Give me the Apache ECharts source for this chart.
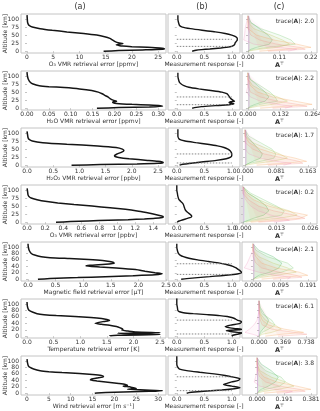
<!DOCTYPE html>
<html>
<head>
<meta charset="UTF-8">
<title>Retrieval errors</title>
<script src="https://cdn.jsdelivr.net/npm/echarts@6/dist/echarts.min.js"></script>
<style>
html, body { margin: 0; padding: 0; background: #fff; }
#main { width: 320px; height: 411px; }
</style>
</head>
<body>
<div id="main"></div>
<script type="text/javascript">
// ---- column (a): retrieval error profiles ----
var aAlt1 = [112, 100, 90, 85, 80, 75, 70, 65, 60, 55, 50, 45, 40, 36, 30, 26, 24, 22, 20, 18, 16, 14, 12, 10, 8, 6, 4, 2, 0];
var aErr1 = [0, 0.05, 0.1, 0.2, 0.4, 1.0, 2.5, 4.8, 7.6, 10.8, 13.3, 14.8, 15.8, 16.2, 16.8, 17.4, 18.3, 17.5, 17.0, 17.5, 18.2, 20, 23, 25.3, 26.2, 25.8, 22, 17.5, 14.6];
var aAlt2 = [112, 100, 90, 80, 75, 70, 67, 64, 60, 55, 50, 45, 40, 35, 30, 25, 22, 20, 18, 15, 12, 10, 8, 6, 4, 2, 0];
var aErr2 = [0, 0.001, 0.003, 0.008, 0.014, 0.028, 0.05, 0.085, 0.12, 0.148, 0.163, 0.172, 0.178, 0.185, 0.19, 0.197, 0.205, 0.198, 0.196, 0.205, 0.24, 0.28, 0.305, 0.31, 0.28, 0.21, 0.16];
var aAlt3 = [105, 95, 85, 80, 75, 70, 65, 60, 55, 50, 45, 40, 35, 30, 27, 24, 20, 15, 12, 10, 8, 6, 4, 2, 0];
var aErr3 = [0, 0.01, 0.02, 0.04, 0.1, 0.3, 0.76, 1.35, 1.7, 1.82, 1.85, 1.8, 1.72, 1.67, 1.68, 1.75, 1.95, 2.3, 2.5, 2.58, 2.6, 2.5, 2.1, 1.4, 0.85];
var aAlt4 = [105, 95, 85, 80, 75, 70, 65, 60, 55, 50, 45, 40, 35, 30, 25, 20, 17, 15, 12, 10, 8, 6, 4, 2, 0];
var aErr4 = [0, 0.005, 0.01, 0.02, 0.045, 0.11, 0.2, 0.34, 0.52, 0.72, 0.92, 1.09, 1.22, 1.32, 1.41, 1.48, 1.51, 1.5, 1.42, 1.3, 1.12, 0.9, 0.68, 0.48, 0.32];
var aAlt5 = [110, 100, 90, 80, 75, 70, 67, 64, 61, 58, 55, 52, 49, 46, 43, 41, 38, 35, 30, 25, 20, 17, 14, 11, 8, 5, 2, 0];
var aErr5 = [0, 0.005, 0.02, 0.06, 0.12, 0.24, 0.4, 0.75, 1.1, 1.35, 1.48, 1.55, 1.56, 1.35, 1.12, 1.05, 1.3, 1.6, 1.95, 2.12, 2.3, 2.43, 2.3, 1.9, 1.4, 0.9, 0.4, 0.18];
var aAlt6 = [106, 95, 85, 80, 75, 70, 67, 64, 61, 58, 55, 52, 49, 46, 43, 40, 37, 34, 30, 26, 22, 19, 16, 13, 11, 9, 7, 5, 3, 1, 0];
var aErr6 = [0, 0.005, 0.02, 0.04, 0.1, 0.19, 0.32, 0.55, 0.9, 1.2, 1.4, 1.5, 1.55, 1.45, 1.35, 1.28, 1.4, 1.55, 1.68, 1.75, 1.8, 1.78, 1.9, 2.05, 2.5, 1.7, 2.0, 2.5, 1.7, 1.55, 1.55];
var aAlt7 = [106, 95, 85, 80, 75, 70, 67, 64, 61, 58, 55, 52, 50, 47, 44, 41, 38, 35, 30, 27, 24, 22, 20, 18, 15, 12, 10, 8, 6, 3, 1, 0];
var aErr7 = [0, 0.1, 0.3, 0.7, 1.5, 3, 5, 8, 12, 15, 17, 17.5, 17.3, 16, 14.8, 14.5, 16, 18, 21, 22.5, 23, 22, 23.5, 24, 25, 23, 27, 31, 28, 20, 16, 15.5];
var aNames = ['O\u2083 VMR retrieval error [ppmv]', 'H\u2082O VMR retrieval error [ppmv]', 'H\u2082O\u2082 VMR retrieval error [ppbv]',
  'O\u2083 VMR retrieval error [ppbv]', 'Magnetic field retrieval error [\u00b5T]', 'Temperature retrieval error [K]', 'Wind retrieval error [m s\u207b\u00b9]'];
var aTicks1 = [0, 5, 10, 15, 20, 25];
var aTicks2 = [0, 0.05, 0.1, 0.15, 0.2, 0.25, 0.3];
var aTicks3 = [0, 0.5, 1, 1.5, 2, 2.5];
var aTicks4 = [0, 0.2, 0.4, 0.6, 0.8, 1.0, 1.2, 1.4];
var aTicks5 = [0, 0.5, 1, 1.5, 2, 2.5];
var aTicks6 = [0, 0.5, 1, 1.5, 2, 2.5];
var aTicks7 = [0, 5, 10, 15, 20, 25, 30];

// ---- column (b): measurement response ----
var bAlt1 = [112, 100, 90, 80, 75, 70, 65, 60, 55, 50, 45, 40, 35, 30, 25, 20, 15, 12, 10, 7, 5, 3, 0];
var bResp1 = [0.02, 0.02, 0.03, 0.05, 0.1, 0.25, 0.46, 0.7, 0.88, 1.0, 1.07, 1.1, 1.1, 1.08, 1.06, 1.05, 1.0, 0.9, 0.8, 0.6, 0.45, 0.35, 0.28];
var bAlt2 = [110, 100, 90, 80, 75, 70, 65, 60, 55, 50, 45, 40, 35, 30, 25, 22, 20, 17, 14, 11, 8, 5, 2, 0];
var bResp2 = [0.02, 0.02, 0.03, 0.05, 0.08, 0.13, 0.22, 0.4, 0.62, 0.82, 0.91, 0.94, 0.96, 0.98, 1.02, 1.05, 0.98, 0.95, 1.04, 0.95, 0.7, 0.45, 0.32, 0.28];
var bAlt3 = [112, 100, 90, 80, 75, 70, 65, 60, 55, 50, 45, 40, 35, 30, 25, 20, 15, 10, 7, 4, 2, 0];
var bResp3 = [0.02, 0.02, 0.02, 0.05, 0.15, 0.35, 0.56, 0.74, 0.86, 0.93, 0.97, 0.99, 1.0, 1.0, 0.98, 0.9, 0.72, 0.45, 0.3, 0.15, 0.08, 0.05];
var bAlt4 = [115, 100, 90, 80, 70, 65, 60, 55, 50, 45, 40, 35, 30, 25, 20, 17, 14, 10, 7, 4, 2, 0];
var bResp4 = [0, 0, 0.01, 0.02, 0.04, 0.07, 0.1, 0.12, 0.13, 0.14, 0.15, 0.17, 0.2, 0.24, 0.27, 0.27, 0.24, 0.16, 0.1, 0.05, 0.02, 0.01];
var bAlt5 = [110, 100, 90, 80, 75, 70, 65, 60, 55, 50, 45, 40, 35, 30, 25, 20, 17, 14, 11, 8, 5, 2, 0];
var bResp5 = [0, 0, 0.01, 0.03, 0.06, 0.12, 0.22, 0.38, 0.58, 0.78, 0.92, 1.02, 1.08, 1.12, 1.16, 1.18, 1.12, 0.98, 0.8, 0.6, 0.38, 0.18, 0.08];
var bAlt6 = [118, 100, 90, 80, 76, 73, 70, 67, 64, 61, 58, 55, 50, 45, 40, 35, 30, 25, 21, 17, 13, 10, 6, 3, 0];
var bResp6 = [0, 0, 0.01, 0.02, 0.05, 0.12, 0.3, 0.55, 0.78, 0.92, 1.0, 1.05, 1.1, 1.18, 1.15, 1.0, 0.88, 1.0, 1.2, 0.9, 1.05, 1.2, 1.1, 1.02, 1.0];
var bAlt7 = [115, 100, 90, 80, 75, 70, 65, 60, 55, 50, 45, 40, 35, 30, 27, 22, 17, 13, 10, 7, 4, 2, 0];
var bResp7 = [0, 0, 0, 0.02, 0.05, 0.18, 0.42, 0.68, 0.88, 1.03, 1.15, 1.12, 1.0, 0.9, 0.85, 1.0, 1.15, 1.0, 0.82, 0.55, 0.32, 0.22, 0.18];
// altitude limits drawn as dotted lines, and their response span
var bDots = [[37, 15], [35, 11], [35, 7], [], [48, 15], [50, 7], [51, 8]];
var dotSpan = [0, 1];
var bTicks = [0, 0.5, 1.0];

// ---- column (c): averaging kernels ----
var cAlt = [110, 90, 70, 50, 35, 22, 12, 6, 0];
var cLines1 = [
  [0, 0.01, 0.04, 0.07, 0.085, 0.075, 0.03, 0.01, 0],
  [0, 0.005, 0.045, 0.11, 0.15, 0.165, 0.07, 0.02, 0],
  [0, 0, 0.02, 0.08, 0.12, 0.145, 0.1, 0.04, 0],
  [0, 0, 0, 0.03, 0.09, 0.17, 0.22, 0.13, 0.04],
  [0, 0, 0, 0.01, 0.04, 0.1, 0.18, 0.2, 0.07],
  [0, -0.005, -0.01, -0.012, -0.015, 0.02, 0.1, 0.17, 0.14]];
var cLines2 = [
  [0, 0.01, 0.04, 0.07, 0.085, 0.07, 0.03, 0.01, 0],
  [0, 0.008, 0.05, 0.09, 0.11, 0.12, 0.05, 0.02, 0],
  [0, 0, 0.02, 0.07, 0.12, 0.16, 0.1, 0.04, 0],
  [0, 0, 0.01, 0.04, 0.1, 0.19, 0.26, 0.15, 0.05],
  [0, 0, 0, 0.01, 0.05, 0.12, 0.2, 0.24, 0.1],
  [0, 0, 0, -0.006, 0.01, 0.05, 0.12, 0.18, 0.15]];
var cLines3 = [
  [0, 0.005, 0.02, 0.035, 0.045, 0.04, 0.02, 0.01, 0],
  [0, 0.01, 0.04, 0.07, 0.08, 0.075, 0.04, 0.01, 0],
  [0, 0, 0.02, 0.06, 0.09, 0.11, 0.07, 0.03, 0],
  [0, 0, 0.01, 0.04, 0.08, 0.13, 0.16, 0.1, 0.03],
  [0, 0, 0, 0.02, 0.05, 0.1, 0.14, 0.15, 0.06],
  [0, 0, 0, 0, 0.01, 0.04, 0.08, 0.12, 0.1]];
var cLines4 = [
  [0, 0.002, 0.006, 0.009, 0.01, 0.008, 0.004, 0.002, 0],
  [0, 0.003, 0.008, 0.013, 0.016, 0.015, 0.008, 0.003, 0],
  [0, 0.002, 0.006, 0.012, 0.018, 0.021, 0.014, 0.006, 0.001],
  [0, 0.001, 0.004, 0.01, 0.017, 0.025, 0.022, 0.012, 0.003],
  [0, 0, 0.002, 0.006, 0.012, 0.02, 0.024, 0.018, 0.006],
  [0, 0, 0.001, 0.003, 0.006, 0.011, 0.016, 0.018, 0.012]];
var cLines5 = [
  [0, 0.02, 0.07, 0.1, 0.09, 0.06, 0.02, 0.01, 0],
  [0, 0.01, 0.05, 0.12, 0.14, 0.1, 0.04, 0.01, 0],
  [0, 0, 0.02, 0.07, 0.12, 0.15, 0.08, 0.03, 0],
  [0, 0, 0.01, 0.03, 0.08, 0.16, 0.19, 0.1, 0.03],
  [0, 0, 0, 0.01, 0.03, 0.09, 0.15, 0.17, 0.07],
  [0, 0, -0.01, -0.02, -0.03, 0.02, 0.08, 0.13, 0.12]];
var cLines6 = [
  [0, 0.02, 0.08, 0.15, 0.12, 0.06, 0.02, 0.01, 0],
  [0, 0.01, 0.05, 0.2, 0.25, 0.15, 0.05, 0.02, 0],
  [0, 0, 0.02, 0.1, 0.25, 0.35, 0.2, 0.05, 0],
  [0, 0, 0.01, 0.05, 0.15, 0.4, 0.7, 0.35, 0.1],
  [0, 0, 0, 0.02, 0.05, 0.2, 0.55, 0.75, 0.3],
  [0, 0, -0.01, -0.03, -0.08, -0.15, -0.22, -0.1, 0]];
var cLines7 = [
  [0, 0.03, 0.1, 0.15, 0.13, 0.08, 0.03, 0.01, 0],
  [0, 0.01, 0.06, 0.17, 0.2, 0.16, 0.06, 0.02, 0],
  [0, 0, 0.02, 0.1, 0.2, 0.26, 0.15, 0.05, 0],
  [0, 0, 0.01, 0.05, 0.14, 0.28, 0.38, 0.2, 0.05],
  [0, 0, 0, 0.02, 0.06, 0.16, 0.3, 0.34, 0.14],
  [0, 0, 0, -0.01, -0.02, 0.02, 0.12, 0.25, 0.2]];
var cSpike = [0.003, 0.004, 0.002, 0.0003, 0.003, 0.0, 0.004];
var cTicks1 = [0, 0.11, 0.22];
var cTicks2 = [0, 0.132, 0.264];
var cTicks3 = [0, 0.081, 0.163];
var cTicks4 = [0, 0.013, 0.026];
var cTicks5 = [0, 0.095, 0.191];
var cTicks6 = [0, 0.369, 0.738];
var cTicks7 = [0, 0.191, 0.381];
var traceVals = [2.0, 2.2, 1.7, 0.2, 2.1, 6.1, 3.8];

var altTicksA = [0, 25, 50, 75, 100];
var altTicksB = [0, 20, 40, 60, 80, 100];

// ---- layout / style ----
var FONT = 'DejaVu Sans', TXT = '#333', FRAME = '#c4c4c4';
var rowTop = 14, rowStep = 57, rowH = 39;
var cols = [{ left: 21, width: 145 }, { left: 168, width: 72 }, { left: 242, width: 75 }];
var aRanges = [[-1.15, 26.5], [-0.0137, 0.318], [-0.115, 2.653], [-0.068, 1.54], [-0.127, 2.5], [-0.113, 2.61], [-1.38, 31.8]];
var aDec = [0, 2, 1, 1, 1, 1, 0];
var bRange = [-0.16, 1.15];
var cRanges = [[-0.021, 0.241], [-0.024, 0.28], [-0.008, 0.187], [-0.0004, 0.0287], [-0.038, 0.222], [-0.267, 0.91], [-0.106, 0.423]];
var cDec = [2, 3, 3, 3, 3, 3, 3];
var cStroke = ['rgba(60,175,90,0.45)', 'rgba(120,200,110,0.45)', 'rgba(190,195,90,0.45)', 'rgba(245,165,100,0.45)', 'rgba(245,140,130,0.4)', 'rgba(240,130,180,0.35)'];
var cFill = ['rgba(60,175,90,0.09)', 'rgba(120,200,110,0.08)', 'rgba(190,195,90,0.08)', 'rgba(245,165,100,0.09)', 'rgba(245,140,130,0.08)', 'rgba(240,130,180,0.06)'];

var aAlt = [aAlt1, aAlt2, aAlt3, aAlt4, aAlt5, aAlt6, aAlt7];
var aErr = [aErr1, aErr2, aErr3, aErr4, aErr5, aErr6, aErr7];
var aTicks = [aTicks1, aTicks2, aTicks3, aTicks4, aTicks5, aTicks6, aTicks7];
var bAlt = [bAlt1, bAlt2, bAlt3, bAlt4, bAlt5, bAlt6, bAlt7];
var bResp = [bResp1, bResp2, bResp3, bResp4, bResp5, bResp6, bResp7];
var cLines = [cLines1, cLines2, cLines3, cLines4, cLines5, cLines6, cLines7];
var cTicks = [cTicks1, cTicks2, cTicks3, cTicks4, cTicks5, cTicks6, cTicks7];

function zip(xs, ys) { return xs.map(function (x, i) { return [x, ys[i]]; }); }
function fmt(d) { return function (v) { return Number(v).toFixed(d); }; }

function xAx(gi, range, ticks, dec, name, rich) {
    return {
        type: 'value', gridIndex: gi, min: range[0], max: range[1],
        axisLine: { show: false }, splitLine: { show: false },
        axisTick: { show: true, length: 2, customValues: ticks, lineStyle: { color: FRAME } },
        axisLabel: { customValues: ticks, formatter: fmt(dec), fontSize: 6, color: TXT, margin: 1.5, fontFamily: FONT },
        name: name, nameLocation: 'middle', nameGap: 8, nameMoveOverlap: false,
        nameTextStyle: { fontSize: 6, color: TXT, fontFamily: FONT, rich: rich }
    };
}
function yAx(gi, ticks, withLabels) {
    return {
        type: 'value', gridIndex: gi, min: -5.5, max: 115.5,
        axisLine: { show: false }, splitLine: { show: false },
        axisTick: { show: true, length: 2, customValues: ticks, lineStyle: { color: FRAME } },
        axisLabel: { show: withLabels, customValues: ticks, fontSize: 6, color: TXT, margin: 2, fontFamily: FONT },
        name: withLabels ? 'Altitude [km]' : '', nameLocation: 'middle', nameGap: 13, nameRotate: 90, nameMoveOverlap: false,
        nameTextStyle: { fontSize: 6, color: TXT, fontFamily: FONT }
    };
}

var grids = [], xAxes = [], yAxes = [], series = [], graphics = [];
var tRich = {
    b: { fontWeight: 'bold', fontSize: 6.5, fontFamily: FONT, color: TXT },
    s: { fontSize: 4.5, fontFamily: FONT, color: TXT, padding: [0, 0, 4, 0] }
};

for (var r = 0; r < 7; r++) {
    var rowY = rowTop + r * rowStep;
    var altT = r < 4 ? altTicksA : altTicksB;
    for (var c = 0; c < 3; c++) {
        grids.push({ left: cols[c].left, top: rowY, width: cols[c].width, height: rowH, show: true,
            borderColor: FRAME, borderWidth: 1, outerBoundsMode: 'none' });
    }
    var gA = r * 3, gB = r * 3 + 1, gC = r * 3 + 2;
    xAxes.push(xAx(gA, aRanges[r], aTicks[r], aDec[r], aNames[r]));
    xAxes.push(xAx(gB, bRange, bTicks, 1, 'Measurement response [-]'));
    xAxes.push(xAx(gC, cRanges[r], cTicks[r], cDec[r], '{b|A}{s|\u22a4}', tRich));
    yAxes.push(yAx(gA, altT, true));
    yAxes.push(yAx(gB, altT, false));
    yAxes.push(yAx(gC, altT, false));

    series.push({ type: 'line', xAxisIndex: gA, yAxisIndex: gA, data: zip(aErr[r], aAlt[r]),
        showSymbol: false, smooth: 0.2, silent: true, lineStyle: { color: '#151515', width: 1.5 } });
    series.push({ type: 'line', xAxisIndex: gB, yAxisIndex: gB, data: zip(bResp[r], bAlt[r]),
        showSymbol: false, smooth: 0.2, silent: true, lineStyle: { color: '#151515', width: 1.4 } });
    bDots[r].forEach(function (a) {
        series.push({ type: 'line', xAxisIndex: gB, yAxisIndex: gB, data: dotSpan.map(function (x) { return [x, a]; }),
            showSymbol: false, silent: true, lineStyle: { color: '#777', width: 0.9, type: [1.5, 1.5] } });
    });

    (function (lines, gi) {
        series.push({
            type: 'custom', xAxisIndex: gi, yAxisIndex: gi, clip: true, silent: true,
            data: lines.map(function (l) { return [l[0], cAlt[0]]; }),
            renderItem: function (params, api) {
                var l = lines[params.dataIndex];
                var pts = cAlt.map(function (a, k) { return api.coord([l[k], a]); });
                return { type: 'group', children: [
                    { type: 'polygon', shape: { points: pts }, style: { fill: cFill[params.dataIndex] } },
                    { type: 'polyline', shape: { points: pts }, style: { stroke: cStroke[params.dataIndex], lineWidth: 0.7, fill: null } }
                ] };
            }
        });
    })(cLines[r], gC);
    series.push({ type: 'line', xAxisIndex: gC, yAxisIndex: gC,
        data: [[cSpike[r], cAlt[0]], [cSpike[r], cAlt[cAlt.length - 1]]],
        showSymbol: false, silent: true, lineStyle: { color: 'rgba(200,110,220,0.55)', width: 0.8 } });

    graphics.push({ type: 'text', x: 314, y: rowY + 7, silent: true,
        style: { text: 'trace({b|A}): ' + traceVals[r].toFixed(1), align: 'right', verticalAlign: 'middle',
            fontSize: 6, fontFamily: FONT, fill: TXT,
            rich: { b: { fontWeight: 'bold', fontSize: 6, fontFamily: FONT, fill: TXT } } } });
}

['(a)', '(b)', '(c)'].forEach(function (t, i) {
    graphics.push({ type: 'text', x: [80, 202, 279][i], y: 7, silent: true,
        style: { text: t, align: 'center', verticalAlign: 'middle', fontSize: 8, fontFamily: FONT, fill: TXT } });
});

var chart = echarts.init(document.getElementById('main'), null, { renderer: 'canvas' });
chart.setOption({
    animation: false,
    backgroundColor: '#fff',
    grid: grids,
    xAxis: xAxes,
    yAxis: yAxes,
    series: series,
    graphic: graphics
});
</script>
</body>
</html>
